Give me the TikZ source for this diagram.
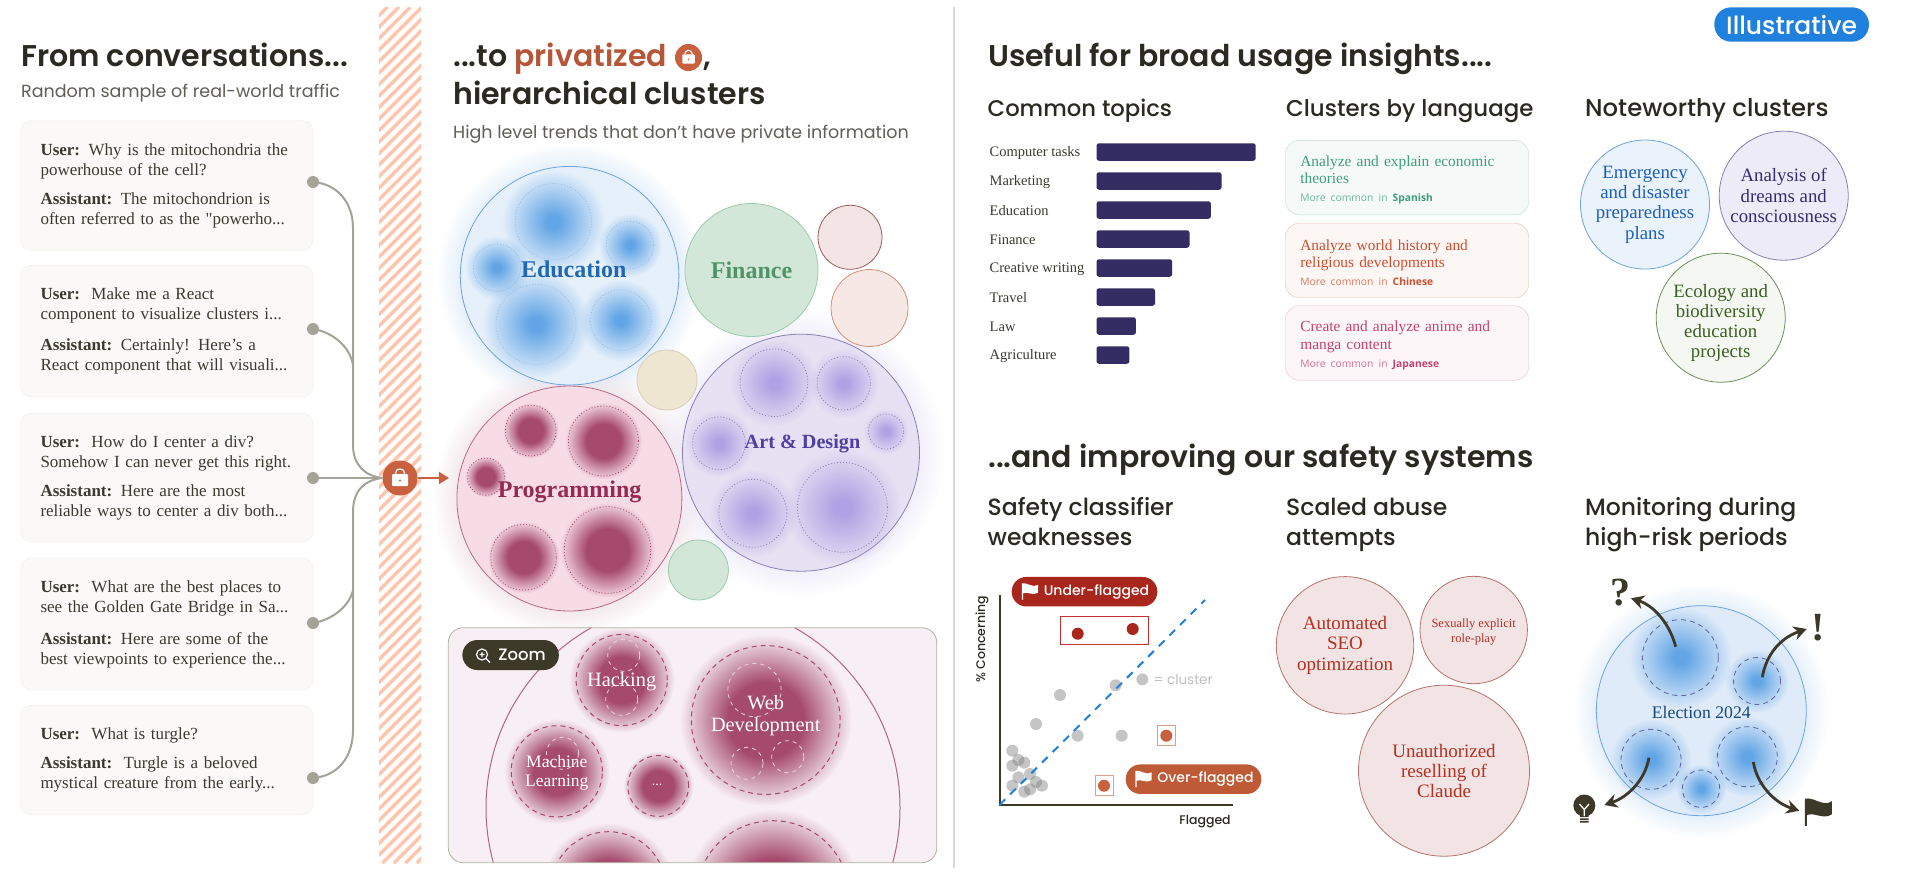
\documentclass[tikz,border=0pt]{standalone}
\usepackage{fontspec}
\usetikzlibrary{arrows.meta,positioning,fadings}
\setmainfont{Liberation Serif}[Ligatures=TeXOff]
\newfontfamily\headfont{Poppins SemiBold}
\newfontfamily\panelfont{Poppins Medium}
\newfontfamily\subfont{Poppins}
\newfontfamily\tinyfont{Open Sans}
\newcommand{\fsize}[2]{\fontsize{#1}{#2}\selectfont}
\definecolor{ink}{HTML}{2B2A22}
\definecolor{greytext}{HTML}{5F5E57}
\definecolor{cardtext}{HTML}{3B3A31}
\definecolor{linkgrey}{HTML}{A3A397}
\definecolor{lockorange}{HTML}{C9603E}
\definecolor{stripe}{HTML}{FFC4AC}
\definecolor{darkpill}{HTML}{3D3929}
\definecolor{pillblue}{HTML}{2080DE}
\definecolor{edufill}{HTML}{E6F0FB}
\definecolor{eduedge}{HTML}{6EA3DC}
\definecolor{edublob}{HTML}{62A5E6}
\definecolor{edutext}{HTML}{1F68B5}
\definecolor{progfill}{HTML}{F7DCE6}
\definecolor{progedge}{HTML}{B56C88}
\definecolor{progblob}{HTML}{A64A6C}
\definecolor{progtext}{HTML}{952A52}
\definecolor{zoomfill}{HTML}{F7EFF3}
\definecolor{artfill}{HTML}{E6E2F3}
\definecolor{artedge}{HTML}{8A80B5}
\definecolor{artblob}{HTML}{AFA1E4}
\definecolor{arttext}{HTML}{4F3FA5}
\definecolor{electfill}{HTML}{DFEBF9}
\definecolor{barblue}{HTML}{342D63}
\definecolor{abusefill}{HTML}{F2E3E5}
\definecolor{abuseedge}{HTML}{B4736E}
\definecolor{abusetext}{HTML}{B5301F}
\definecolor{flagred}{HTML}{A8261C}
\definecolor{flagorange}{HTML}{BE5A36}
\definecolor{langgreen}{HTML}{3E9E7A}
\definecolor{langred}{HTML}{C94F2F}
\definecolor{langpink}{HTML}{C4436F}
\definecolor{cardfill}{HTML}{FAF9F7}
\definecolor{cardedge}{HTML}{F0EEE9}
\newcommand{\softmask}[2]{\pgfdeclareradialshading{#1mask}{\pgfpointorigin}{color(0bp)=(pgftransparent!0); color(#2bp)=(pgftransparent!0); color(25bp)=(pgftransparent!100); color(50bp)=(pgftransparent!100)}\pgfdeclarefading{#1}{\pgfuseshading{#1mask}}}
\softmask{softspot}{3}
\softmask{firmspot}{11}
\softmask{softhalo}{19}
\colorlet{eduglow}{edublob!22!white}
\colorlet{progglow}{progedge!20!white}
\colorlet{artglow}{artblob!22!white}
\tikzset{
  mainhead/.style={anchor=base west, inner sep=0pt, text=ink, font=\headfont\fsize{30}{34}},
  panelhead/.style={anchor=base west, inner sep=0pt, text=ink, font=\panelfont\fsize{#1}{30}},
  panelhead/.default=23.5,
  subhead/.style={anchor=base west, inner sep=0pt, text=greytext, font=\subfont\fsize{17.5}{20}},
  convcard/.style={draw=cardedge, fill=cardfill, rounded corners=11pt, text=cardtext,
    minimum width=292.5pt, text width=252.5pt, inner xsep=20pt, inner ysep=0pt, align=left, font=\fsize{17}{20}},
  linkdot/.style={circle, fill=linkgrey, minimum size=12pt, inner sep=0pt},
  linkline/.style={draw=linkgrey, line width=2pt},
  cluster/.style={circle, inner sep=0pt, align=center, font=\bfseries\fsize{#1}{#1}},
  softblob/.style={fill=#1, path fading=softspot},
  firmblob/.style={fill=#1, path fading=firmspot},
  halo/.style={fill=#1, path fading=softhalo},
  dotring/.style={draw=#1, line width=.8pt, dash pattern=on 1pt off 2pt},
  dashring/.style={draw=#1, line width=1pt, dash pattern=on 5pt off 4pt},
  topicbar/.style={anchor=west, fill=barblue, rounded corners=2.5pt, minimum height=17.5pt, inner sep=0pt},
  langcard/.style={draw=#1!35, fill=#1!5, rounded corners=14pt, text=#1, minimum width=243.5pt, text width=213.5pt,
    inner xsep=15pt, inner ysep=0pt, minimum height=74.5pt, align=left, font=\fsize{15.4}{17.6}},
  notecircle/.style={circle, minimum size=129pt, inner sep=0pt, align=center, line width=.8pt, font=\fsize{18.8}{20.3}},
  abusecircle/.style={circle, draw=abuseedge, fill=abusefill, text=abusetext, inner sep=0pt, align=center,
    line width=.8pt, font=\fsize{19}{20.2}},
  smallcircle/.style={circle, draw=#1, inner sep=0pt, line width=.8pt},
  flagpill/.style={fill=#1, text=white, rounded corners=14.6pt, minimum height=29.5pt, inner sep=0pt, font=\panelfont\fsize{14}{16}},
  scatterdot/.style={circle, fill=gray, fill opacity=.45, minimum size=12pt, inner sep=0pt},
  election/.style={draw=darkpill, line width=2.8pt, -{Stealth[length=13pt,width=14pt]}},
  bagicon/.pic={
    \fill[white, rounded corners=1pt] (-8,-4) rectangle (8,8);
    \draw[white, line width=1.2pt] (-4.5,-4) -- (-4.5,-5) .. controls (-4.5,-10.5) and (4.5,-10.5) .. (4.5,-5) -- (4.5,-4);
    \fill[lockorange] (0,2.5) circle (1.1pt);
  },
  flagicon/.pic={
    \path[pic actions] (-13.5,-13.5) -- (-13.5,13.5) -- (-11.5,13.5) -- (-11.5,3) .. controls (-5,-1) and (5,8) .. (13.5,2)
      -- (13.5,-11) .. controls (5,-5) and (-5,-16) .. (-13.5,-13.5) -- cycle;
  }
}
\begin{document}
\begin{tikzpicture}[x=1pt, y=-1pt]
  \useasboundingbox (0,0) rectangle (1910,876);
  \fill[white] (0,0) rectangle (1910,876);

  % conversations
  \node[mainhead] (convhead) at (21,66.5) {From conversations...};
  \node[subhead] (convsub) at (21,97) {Random sample of real-world traffic};

  \node[convcard, minimum height=130pt] (conv1) at (166.75,185.5) {\textbf{User:} Why is the mitochondria the\\powerhouse of the cell?\\[9pt]\textbf{Assistant:} The mitochondrion is\\often referred to as the "powerho...};
  \node[convcard, minimum height=132pt] (conv2) at (166.75,331) {\textbf{User:}\, Make me a React\\component to visualize clusters i...\\[11pt]\textbf{Assistant:} Certainly! Here’s a\\React component that will visuali...};
  \node[convcard, minimum height=129pt] (conv3) at (166.75,477.5) {\textbf{User:}\, How do I center a div?\\Somehow I can never get this right.\\[9pt]\textbf{Assistant:} Here are the most\\reliable ways to center a div both...};
  \node[convcard, minimum height=132pt] (conv4) at (166.75,624) {\textbf{User:}\, What are the best places to\\see the Golden Gate Bridge in Sa...\\[12pt]\textbf{Assistant:} Here are some of the\\best viewpoints to experience the...};
  \node[convcard, minimum height=110pt] (conv5) at (166.75,760) {\textbf{User:}\, What is turgle?\\[9pt]\textbf{Assistant:}\, Turgle is a beloved\\mystical creature from the early...};

  % stripe band
  \begin{scope}
    \clip (379,7) rectangle (421,863);
    \foreach \s in {-480,-468.5,...,430}
      \draw[stripe, line width=3.5pt] (\s,863) -- (\s+856,7);
  \end{scope}

  \foreach \i/\ypos in {1/182,2/329,3/478,4/623,5/778}
    \node[linkdot] (dot\i) at (313,\ypos) {};
  \node[circle, fill=lockorange, minimum size=35pt, inner sep=0pt] (lock) at (400,478) {};
  \draw[linkline] (dot1.center) .. controls (338,184) and (353,203) .. (353,228) -- (353,445)
    .. controls (353,465) and (365,476) .. (lock.west);
  \draw[linkline] (dot2.center) .. controls (333,332) and (350,347) .. (353,365);
  \draw[linkline] (dot3.center) -- (lock.west);
  \draw[linkline] (dot4.center) .. controls (333,620) and (350,605) .. (353,590);
  \draw[linkline] (dot5.center) .. controls (338,776) and (353,757) .. (353,730) -- (353,512)
    .. controls (353,490) and (365,480) .. (lock.west);
  \pic at (lock) {bagicon};

  % clusters
  \node[mainhead] (clushead) at (453,66.5) {...to {\color{lockorange!90!black}privatized}};
  \node[circle, fill=lockorange, minimum size=27pt, inner sep=0pt] (headlock) at (688.5,57.5) {};
  \pic[scale=.78] at (headlock) {bagicon};
  \node[mainhead] (clushead2) at (703,66.5) {,};
  \node[mainhead] (clushead3) at (453,104) {hierarchical clusters};
  \node[subhead] (clussub) at (453,138.5) {High level trends that don’t have private information};

  \fill[halo=eduglow] (569.6,275.7) circle (132pt);
  \fill[halo=progglow] (569.4,498.5) circle (136pt);
  \fill[halo=artglow] (801,452.7) circle (143pt);
  \coordinate (lockout) at (449,478);
  \draw[lockorange, line width=1.7pt, -{Triangle[length=10pt,width=12pt]}] (lock) -- (lockout);

  \node[cluster=1, draw=eduedge, fill=edufill, minimum size=218.6pt, line width=.8pt] (education) at (569.6,275.7) {};
  \foreach \x/\y/\r in {553.4/221.7/38.2,630/245/23.7,497/267.7/23.7,536/324.3/40,620.7/320.3/30.4} {
    \fill[softblob=edublob] (\x,\y) circle ({1.35*\r pt});
    \draw[dotring=eduedge!70] (\x,\y) circle (\r pt);
  }
  \node[inner sep=0pt, text=edutext, font=\bfseries\fsize{24}{24}] (edulabel) at (573.7,269.5) {Education};

  \definecolor{finfill}{HTML}{D2E7D8}
  \definecolor{finedge}{HTML}{9CCCAE}
  \definecolor{fintext}{HTML}{4F9468}
  \definecolor{pinkfill}{HTML}{F3E5E5}
  \definecolor{pinkedge}{HTML}{9D5C5C}
  \definecolor{peachfill}{HTML}{F6E8E5}
  \definecolor{peachedge}{HTML}{D38F78}
  \definecolor{tanfill}{HTML}{EFE6D2}
  \definecolor{tanedge}{HTML}{D8CFB8}
  \node[cluster=24, draw=finedge, fill=finfill, text=fintext, minimum size=133pt, line width=.8pt] (finance) at (751.5,270) {Finance};
  \node[smallcircle=pinkedge, fill=pinkfill, minimum size=64pt] (smallpink) at (850,237.3) {};
  \node[smallcircle=peachedge, fill=peachfill, minimum size=77pt] (smallpeach) at (869.5,308) {};
  \node[smallcircle=tanedge, fill=tanfill, minimum size=60pt] (smalltan) at (667,380) {};
  \node[smallcircle=finedge, fill=finfill, minimum size=60pt] (smallgreen) at (698.4,570) {};

  \node[cluster=1, draw=progedge, fill=progfill, minimum size=225pt, line width=.8pt] (programming) at (569.4,498.5) {};
  \foreach \x/\y/\r in {530.7/430.6/25.4,603.4/441/35,485.8/476.7/18.6,523.6/557.3/32.8,607.5/550/43.3} {
    \fill[firmblob=progblob] (\x,\y) circle ({1.1*\r pt});
    \draw[dotring=progblob] (\x,\y) circle (\r pt);
  }
  \node[inner sep=0pt, text=progtext, font=\bfseries\fsize{24}{24}] (proglabel) at (569.6,491.7) {Programming};

  \node[cluster=1, draw=artedge, fill=artfill, minimum size=237pt, line width=.8pt] (art) at (801,452.7) {};
  \foreach \x/\y/\r in {774/382.7/33.8,843.8/383.3/26.7,886/431.5/17.6,719/443.3/26.4,752.8/513.3/34,842.4/507.3/45} {
    \fill[softblob=artblob] (\x,\y) circle ({1.3*\r pt});
    \draw[dotring=artedge] (\x,\y) circle (\r pt);
  }
  \node[inner sep=0pt, text=arttext, font=\bfseries\fsize{20.2}{22}] (artlabel) at (802.5,443.3) {Art \& Design};

  % zoom panel
  \begin{scope}
    \clip[rounded corners=15pt] (448.3,627.7) rectangle (936.8,862.7);
    \fill[zoomfill] (448.3,627.7) rectangle (936.8,862.7);
    \draw[progblob!85, line width=1pt] (693,808) circle (207pt);
    \foreach \x/\y/\r in {621.7/680/45.6,765.7/720/74.4,556.8/771.3/45.6,658.2/786/30.4,608.5/889.4/57.7,772.8/897.7/77} {
      \fill[firmblob=progblob] (\x,\y) circle ({1.15*\r pt});
      \draw[dashring=progblob] (\x,\y) circle (\r pt);
    }
    \foreach \x/\y/\r in {623.7/655.3/16,621.7/699.3/16,754.5/690/26.7,747/763.3/16,787.7/756.7/16,562.5/753.3/16}
      \draw[white!75!progblob, line width=.8pt, dash pattern=on 4pt off 4pt] (\x,\y) circle (\r pt);
  \end{scope}
  \draw[linkgrey!85, line width=.8pt, rounded corners=15pt] (448.3,627.7) rectangle (936.8,862.7);
  \node[inner sep=0pt, text=white, align=center, font=\fsize{20.4}{22}] (hacking) at (621.7,682) {Hacking};
  \node[inner sep=0pt, text=white, align=center, font=\fsize{20.3}{22.5}] (webdev) at (765.7,715.5) {Web\\Development};
  \node[inner sep=0pt, text=white, align=center, font=\fsize{17.5}{19.5}] (machine) at (556.8,773) {Machine\\Learning};
  \node[inner sep=0pt, text=white, font=\fsize{14}{14}] (more) at (657,785) {...};
  \node[fill=darkpill, text=white, rounded corners=15pt, minimum width=96.5pt, minimum height=30pt, inner sep=0pt, font=\panelfont\fsize{16.5}{18}] (zoompill) at (510.6,655) {\hspace*{23pt}Zoom};
  \draw[white, line width=1.2pt] (482,654.5) circle (5.5pt) (486,658.5) -- (490,662.5) (479.5,654.5) -- (484.5,654.5) (482,652) -- (482,657);

  \draw[black!15, line width=2pt] (953.5,7) -- (953.5,868);

  % usage insights
  \node[fill=pillblue, text=white, rounded corners=17pt, minimum width=154.7pt, minimum height=34.4pt, inner sep=0pt, font=\panelfont\fsize{25}{26}] (illustrative) at (1791.6,24.5) {Illustrative};
  \node[mainhead] (usehead) at (988,66.5) {Useful for broad usage insights....};
  \node[panelhead=22.7] (topichead) at (987.5,116.5) {Common topics};
  \node[panelhead=22.9] (langhead) at (1286,116.5) {Clusters by language};
  \node[panelhead=24.3] (notehead) at (1585,116.5) {Noteworthy clusters};

  \foreach \name/\barend/\ypos [count=\i] in {Computer tasks/1255.5/152,Marketing/1221.4/181,Education/1210.7/210,Finance/1189.3/239,Creative writing/1172/268,Travel/1154.8/297,Law/1135.7/326,Agriculture/1129.2/355} {
    \node[anchor=west, inner sep=0pt, text=cardtext, font=\fsize{14.5}{15}] (topic\i) at (989.5,\ypos+.8) {\name};
    \node[topicbar, minimum width={(\barend-1096.3)*1pt}] (bar\i) at (1096.3,\ypos) {};
  }

  \node[langcard=langgreen] (spanish) at (1407,177.6) {\rule{0pt}{15pt}Analyze and explain economic\\theories\\[.5pt]{\tinyfont\fsize{10.3}{13}\color{langgreen!75}More common in \textbf{\color{langgreen}Spanish}}};
  \node[langcard=langred] (chinese) at (1407,260.5) {\rule{0pt}{15pt}Analyze world history and\\religious developments\\[.5pt]{\tinyfont\fsize{10.3}{13}\color{langred!75}More common in \textbf{\color{langred}Chinese}}};
  \node[langcard=langpink] (japanese) at (1407,343) {\rule{0pt}{15pt}Create and analyze anime and\\manga content\\[.5pt]{\tinyfont\fsize{10.3}{13}\color{langpink!75}More common in \textbf{\color{langpink}Japanese}}};

  \definecolor{ecotext}{HTML}{3A6020}
  \definecolor{ecoedge}{HTML}{6F8F60}
  \definecolor{ecofill}{HTML}{F4F7F2}
  \node[notecircle, draw=eduedge, fill=edufill!85!white, text=edutext!90!blue] (emergency) at (1645,204.5) {Emergency\\and disaster\\preparedness\\plans};
  \node[notecircle, draw=artedge, fill=artfill!70!white, text=arttext!70!black] (dreams) at (1783.7,195.7) {Analysis of\\dreams and\\consciousness};
  \node[notecircle, draw=ecoedge, fill=ecofill] (ecology) at (1720.7,317.7) {};
  \node[inner sep=0pt, align=center, text=ecotext, font=\fsize{18.8}{20.3}] (ecologylabel) at (1720.7,323) {Ecology and\\biodiversity\\education\\projects};

  % safety systems
  \node[mainhead] (safehead) at (988,467.5) {...and improving our safety systems};
  \node[panelhead] (weakhead) at (987.5,515) {Safety classifier};
  \node[panelhead] (weakhead2) at (987.5,545) {weaknesses};
  \node[panelhead] (abusehead) at (1286,515) {Scaled abuse};
  \node[panelhead] (abusehead2) at (1286,545) {attempts};
  \node[panelhead] (monhead) at (1585,515) {Monitoring during};
  \node[panelhead] (monhead2) at (1585,545) {high-risk periods};

  % scatter
  \coordinate (origin) at (999.5,805);
  \coordinate (yaxis) at (999.5,595);
  \coordinate (xaxis) at (1232.5,805);
  \draw[darkpill, line width=2pt] (yaxis) -- (origin) -- (xaxis);
  \node[rotate=90, inner sep=0pt, text=ink, font=\panelfont\fsize{12.5}{14}] (ylabel) at (982,639) {\% Concerning};
  \node[inner sep=0pt, text=ink, font=\panelfont\fsize{12.5}{14}] (xlabel) at (1205,821.5) {Flagged};
  \foreach \x/\y in {270/795,198/882,323/917,455/917,437/766,127/962,145/990,163/998,127/1007,180/1032,145/1042,198/1056,127/1067,216/1067,180/1078,163/1085}
    \node[scatterdot] at ({970+\x/3},{430+\y/3}) {};
  \coordinate (trend) at (1205,600);
  \draw[pillblue, line width=2pt, dash pattern=on 8pt off 7pt] (origin) -- (trend);
  \node[scatterdot] (legenddot) at (1142.3,679.3) {};
  \node[right=5pt of legenddot, inner sep=0pt, text=black!25, font=\subfont\fsize{13.5}{15}] (legendtext) {= cluster};
  \node[draw=red!70!black!80, line width=1pt, minimum width=88pt, minimum height=28.5pt, inner sep=0pt] (underbox) at (1104,630.3) {};
  \node[circle, fill=flagred, minimum size=12pt, inner sep=0pt] (under1) at (1077.7,633.7) {};
  \node[circle, fill=flagred, minimum size=12pt, inner sep=0pt] (under2) at (1132.7,629) {};
  \node[draw=lockorange!60, line width=1pt, minimum width=18pt, minimum height=20pt, inner sep=0pt] (overbox1) at (1166.3,735.7) {};
  \node[circle, fill=lockorange, minimum size=12pt, inner sep=0pt] (over1) at (1166.3,735.7) {};
  \node[draw=lockorange!60, line width=1pt, minimum width=18pt, minimum height=20pt, inner sep=0pt] (overbox2) at (1104,785.7) {};
  \node[circle, fill=lockorange, minimum size=12pt, inner sep=0pt] (over2) at (1104,785.7) {};
  \node[flagpill=flagred, minimum width=145.6pt] (underpill) at (1084.5,591.7) {\hspace*{24pt}Under-flagged};
  \pic[fill=white, scale=.6] at (1030,591.5) {flagicon};
  \node[flagpill=flagorange, minimum width=135.6pt] (overpill) at (1193.5,779.2) {\hspace*{24pt}Over-flagged};
  \pic[fill=white, scale=.6] at (1143.5,779) {flagicon};

  % abuse clusters
  \node[abusecircle, minimum size=137.4pt] (seo) at (1345,645.3) {Automated\\SEO\\optimization};
  \node[abusecircle, minimum size=107.4pt] (roleplay) at (1473.7,630) {};
  \node[inner sep=0pt, align=center, text=abusetext, font=\fsize{12.5}{14.4}] (roleplaylabel) at (1473.7,632) {Sexually explicit\\role-play};
  \node[abusecircle, minimum size=171pt] (resell) at (1444,770.7) {Unauthorized\\reselling of\\Claude};

  % election
  \fill[halo=eduglow] (1701.3,710.7) circle (127pt);
  \node[circle, draw=eduedge, fill=electfill, minimum size=210pt, inner sep=0pt, line width=.8pt] (electioncircle) at (1701.3,710.7) {};
  \foreach \x/\y/\r in {1680.3/657.7/38,1757/681/23.5,1651/759.3/30,1747.3/756.7/30,1701/788.7/18.7} {
    \fill[softblob=edublob] (\x,\y) circle ({1.35*\r pt});
    \draw[dashring=gray!75!blue, line width=.8pt] (\x,\y) circle (\r pt);
  }
  \node[inner sep=0pt, text=edutext!70!black, font=\fsize{17.7}{19}] (electionlabel) at (1701.3,712.7) {Election 2024};
  \node[inner sep=0pt, text=darkpill, font=\bfseries\fsize{40}{40}] (question) at (1620.7,593) {?};
  \node[inner sep=0pt, text=darkpill, font=\bfseries\fsize{40}{40}] (exclaim) at (1818.3,628) {!};
  \coordinate (a1) at (1675.7,646.7); \coordinate (a2) at (1631,598.3);
  \coordinate (b1) at (1762.3,677.3); \coordinate (b2) at (1806.7,629);
  \coordinate (c1) at (1649,757.7);   \coordinate (c2) at (1604.3,805);
  \coordinate (d1) at (1753.3,762);   \coordinate (d2) at (1799.3,810.7);
  \draw[election] (a1) .. controls (1670,625) and (1655,606) .. (a2);
  \draw[election] (b1) .. controls (1766,655) and (1780,638) .. (b2);
  \draw[election] (c1) .. controls (1645,780) and (1628,797) .. (c2);
  \draw[election] (d1) .. controls (1757,785) and (1775,803) .. (d2);
  \fill[darkpill] (1584.3,805.5) circle (11pt) (1580,812) rectangle (1588.6,817) (1580,818.3) rectangle (1588.6,820) (1580,821) rectangle (1588.6,822.5);
  \draw[white, line width=1.3pt] (1579.5,804) -- (1584.3,809.5) -- (1589,804) (1584.3,809.5) -- (1584.3,816);
  \pic[fill=darkpill] at (1818.3,812.3) {flagicon};
\end{tikzpicture}
\end{document}
